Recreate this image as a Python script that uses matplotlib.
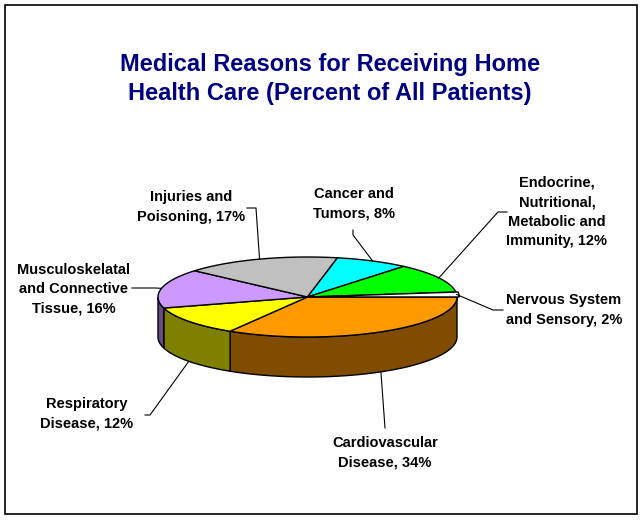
import numpy as np
import matplotlib.pyplot as plt
from matplotlib.patches import Polygon, Rectangle

plt.rcParams['font.family'] = ['Liberation Sans', 'DejaVu Sans']

# data, clockwise from the right-hand side of the pie
labels = ['Cardiovascular\nDisease, 34%',
          'Respiratory\nDisease, 12%',
          'Musculoskelatal\nand Connective\nTissue, 16%',
          'Injuries and\nPoisoning, 17%',
          'Cancer and\nTumors, 8%',
          'Endocrine,\nNutritional,\nMetabolic and\nImmunity, 12%',
          'Nervous System\nand Sensory, 2%']
values = [34, 12, 16, 17, 8, 12, 2]
top_colors = ['#FF9900', '#FFFF00', '#CC99FF', '#C0C0C0', '#00FFFF', '#00FF00', '#FFFFFF']
side_colors = ['#7F4C00', '#808000', '#664C80', '#606060', '#008080', '#008000', '#808080']
explode = [0, 0, 0, 0, 0, 0, 0.015]

# pie geometry (pixel coords, y down)
cx, cy = 307.5, 297.0
a, b = 149.5, 40.0
depth = 40.0
start = 0.0

# label layout: text centre, leader elbow, leader end
text_pos = [(385, 453), (87, 414), (74, 289), (191, 207), (354, 204), (557, 212), (564, 310)]
elbows = [(385, 428), (150, 415), (155, 288), (256, 208), (353, 235), (498, 212), (493, 310)]
ends = [(385, 428), (145, 415), (132, 288), (247, 208), (353, 230), (507, 212), (503, 310)]


def pt(t, z=0.0, r=1.0, off=(0.0, 0.0)):
    return (cx + off[0] + r * a * np.cos(t), cy + off[1] - r * b * np.sin(t) + z)


fig = plt.figure(figsize=(6.44, 5.20), dpi=100)
ax = fig.add_axes([0, 0, 1, 1])
ax.set_xlim(0, 644)
ax.set_ylim(520, 0)
ax.axis('off')

ax.add_patch(Rectangle((5, 5), 632, 509, fill=False, ec='black', lw=1.2))

fracs = np.array(values, dtype=float) / sum(values)
edges = start - 2 * np.pi * np.concatenate([[0], np.cumsum(fracs)])

# side walls (front half only)
for i in range(len(values)):
    t0, t1 = edges[i], edges[i + 1]  # t0 > t1
    lo, hi = max(t1, -np.pi), min(t0, 0.0)
    if lo >= hi:
        continue
    ts = np.linspace(hi, lo, 80)
    upper = [pt(t) for t in ts]
    lower = [pt(t, depth) for t in ts[::-1]]
    ax.add_patch(Polygon(upper + lower, closed=True, fc=side_colors[i], ec='black', lw=1.0, zorder=2))

# top faces
for i in range(len(values)):
    t0, t1 = edges[i], edges[i + 1]
    mid = (t0 + t1) / 2
    off = (explode[i] * a * np.cos(mid), -explode[i] * b * np.sin(mid))
    ts = np.linspace(t0, t1, 120)
    poly = [(cx + off[0], cy + off[1])] + [pt(t, off=off) for t in ts]
    ax.add_patch(Polygon(poly, closed=True, fc=top_colors[i], ec='black', lw=1.0, zorder=3))

# labels and leader lines
for i in range(len(values)):
    mid = (edges[i] + edges[i + 1]) / 2
    z = depth if np.sin(mid) < 0 else 0.0
    ax0 = pt(mid, z)
    ax.plot([ax0[0], elbows[i][0], ends[i][0]], [ax0[1], elbows[i][1], ends[i][1]],
            color='black', lw=0.8, zorder=4)
    ax.text(text_pos[i][0], text_pos[i][1], labels[i], ha='center', va='center',
            multialignment='center', fontsize=10.5, fontweight='bold', linespacing=1.5, zorder=5)

ax.text(330, 79, 'Medical Reasons for Receiving Home\nHealth Care (Percent of All Patients)',
        ha='center', va='center', multialignment='center', fontsize=17,
        fontweight='bold', color='#000080', linespacing=1.3)

fig.savefig('out.png', dpi=100)
